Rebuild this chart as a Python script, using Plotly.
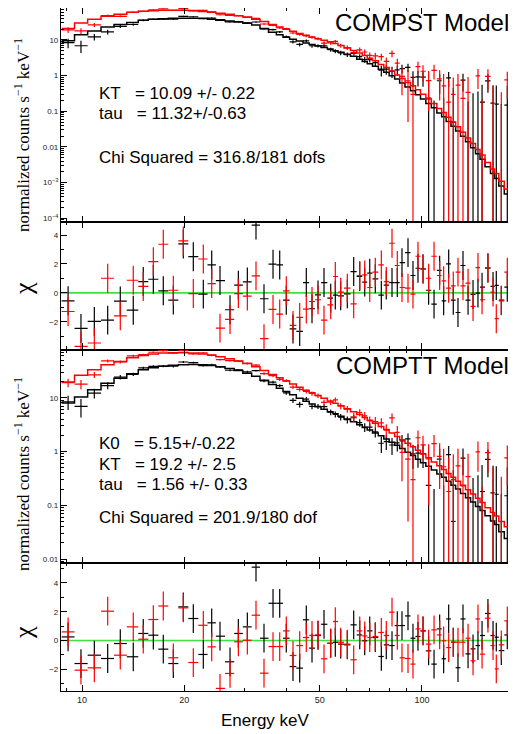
import numpy as np
import plotly.graph_objects as go

# ---------------- data ----------------
energy_kev = [9.1, 9.93, 10.87, 11.9, 12.96, 14.15, 15.14, 16.21, 17.34, 18.56,
              19.86, 21.25, 22.74, 24.07, 25.46, 27.25, 28.83, 30.64, 32.49, 34.3,
              36.46, 38.15, 39.89, 41.74, 43.68, 45.68, 47.48, 49.45, 51.5, 53.89,
              55.59, 57.66, 60.3, 62.97, 65.59, 67.85, 70.19, 72.89, 75.92, 78.52,
              81.62, 84.6, 87.33, 90.96, 94.08, 97.32, 100.7, 104.6, 108.5, 112.7,
              115.8, 119.8, 123.6, 127.6, 132.0, 136.6, 141.3, 146.1, 150.2, 156.3,
              161.8, 165.4, 171.1, 178.2, 185.2]

flux_black = [8.4, 6.9, 12.2, 16.8, 24.1, 27.2, 35.7, 38.2, 38.6, 38.4,
              46.1, 44.8, 39.6, 41.0, 37.4, 32.4, 32.8, 30.2, 31.9, 20.6,
              19.5, 16.8, 12.3, 8.9, 7.5, 9.4, 6.9, 6.9, 6.8, 5.36,
              4.9, 4.36, 3.9, 4.24, 3.43, 2.83, 2.83, 2.32, 1.42, 1.53,
              1.32, 1.45, 1.58, 1.71, 0.9, 0.93, 0.91, 0.235, -0.21, 0.72,
              -0.165, 0.87, 0.05, -0.54, 0.75, -0.2, -0.07, -0.02, 0.18, 0.71,
              0.17, 0.16, -0.21, 0.15, 0.19]
err_black = [2.5, 2.6, 2.5, 2.5, 2.3, 2.0, 1.9, 1.8, 1.8, 1.8,
             1.8, 1.75, 1.7, 1.7, 1.6, 1.55, 1.5, 1.4, 1.3, 1.2,
             1.1, 1.0, 1.0, 0.95, 0.9, 0.85, 0.8, 0.75, 0.7, 0.67,
             0.64, 0.6, 0.58, 0.56, 0.54, 0.52, 0.5, 0.5, 0.48, 0.47,
             0.46, 0.45, 0.45, 0.44, 0.43, 0.43, 0.42, 0.42, 0.41, 0.41,
             0.4, 0.4, 0.4, 0.4, 0.39, 0.39, 0.39, 0.38, 0.38, 0.38,
             0.37, 0.37, 0.37, 0.36, 0.36]
flux_red = [19.1, 17.9, 26.6, 48.3, 46.1, 60.0, 63.2, 70.0, 74.7, 67.3,
            75.3, 65.4, 67.9, 61.2, 51.0, 48.9, 47.9, 43.3, 40.2, 28.1,
            25.8, 21.9, 20.8, 15.7, 14.3, 13.1, 12.0, 10.9, 8.2, 8.3,
            9.1, 7.0, 6.1, 4.4, 5.3, 4.6, 3.7, 3.6, 3.4, 2.5,
            4.2, 2.26, 0.96, 0.72, 0.3, 1.8, 1.33, 0.73, 1.4, 0.81,
            0.52, 0.18, 0.3, 0.54, 0.23, 0.34, -0.58, 0.98, -0.34, 0.95,
            -0.045, -0.98, -0.2, 0.76, 0.01]
err_red = [3.5, 3.5, 3.3, 3.2, 3.0, 2.8, 2.6, 2.5, 2.4, 2.4,
           2.4, 2.3, 2.3, 2.2, 2.1, 2.0, 1.9, 1.8, 1.7, 1.6,
           1.5, 1.4, 1.3, 1.25, 1.2, 1.15, 1.1, 1.05, 1.0, 0.97,
           0.94, 0.9, 0.87, 0.84, 0.82, 0.8, 0.78, 0.76, 0.74, 0.72,
           0.9, 0.7, 0.68, 0.67, 0.66, 0.65, 0.64, 0.63, 0.62, 0.61,
           0.6, 0.6, 0.59, 0.58, 0.58, 0.57, 0.57, 0.56, 0.56, 0.55,
           0.55, 0.54, 0.54, 0.53, 0.53]

# COMPST model and residuals
model_compst_black = [9.5, 14, 18, 23, 27, 31, 36, 38, 39.5, 40.5,
                      41, 41, 40.5, 38, 36, 34, 32, 29.5, 26.5, 21,
                      16.5, 14, 12, 10.5, 9.3, 8.3, 7.5, 6.8, 6.2, 5.6,
                      5.0, 4.5, 4.0, 3.5, 2.9, 2.5, 2.15, 1.85, 1.5, 1.25,
                      1.0, 0.8, 0.62, 0.48, 0.38, 0.29, 0.22, 0.165, 0.125, 0.09,
                      0.07, 0.052, 0.038, 0.028, 0.02, 0.014, 0.0095, 0.0065, 0.0045, 0.0028,
                      0.0018, 0.0013, 0.0008, 0.00048, 0.00028]
model_compst_red = [21, 30, 38, 46, 53, 60, 64, 66, 68, 68.5,
                    68, 67, 63, 60, 56, 53, 48, 44, 38, 33,
                    27, 23, 20, 17.5, 15.3, 13.5, 12, 10.8, 9.8, 8.9,
                    8.0, 7.0, 6.0, 5.1, 4.3, 3.7, 3.1, 2.6, 2.05, 1.7,
                    1.35, 1.05, 0.83, 0.64, 0.52, 0.4, 0.3, 0.22, 0.165, 0.12,
                    0.092, 0.068, 0.05, 0.037, 0.026, 0.018, 0.0125, 0.0085, 0.006, 0.0037,
                    0.0024, 0.0018, 0.0011, 0.00066, 0.0004]
chi_compst_black = [-0.55, -2.46, -1.98, -1.89, -0.57, -1.2, 0.78, 0.94, 0.14, -0.5,
                    3.38, 2.5, -0.09, 1.93, 0.85, -1.17, 0.53, 0.76, 4.69, -0.41,
                    1.98, 1.93, -0.51, -2.5, -2.67, 0.71, -1.1, -0.14, 0.71, -0.37,
                    -0.16, -0.21, -0.07, 1.47, 1.13, 0.74, 1.36, 0.97, -0.16, 0.53,
                    0.71, 0.71, 2.09, 2.78, 1.2, 1.7, 1.66, 0.18, -0.78, 1.56,
                    -0.55, 2.0, -0.51, -1.36, 1.89, -0.51, -0.11, -0.02, 0.39, 1.7,
                    0.44, 0.51, -0.51, 0.39, 0.55]
chi_compst_red = [-1.29, -3.7, -3.47, 1.01, -1.59, 0.87, 0.44, 2.16, 3.36, 0.18,
                  3.59, -0.05, 2.34, 0.64, -2.44, -1.84, -0.05, -0.23, 1.17, -3.17,
                  -1.15, -1.47, 0.14, -2.25, -1.7, -1.13, -0.6, -0.48, -1.89, -0.83,
                  1.13, 0.05, 0.32, -0.76, 1.2, 1.24, 0.37, 1.43, 1.93, 0.78,
                  3.43, 1.89, 0.37, 0.32, -0.09, 2.53, 1.63, 1.01, 2.53, 1.2,
                  0.83, 0.32, 0.48, 1.43, 0.48, 0.67, -0.94, 1.75, -0.48, 1.75,
                  0.05, -1.79, -0.55, 1.43, 0.09]

# COMPTT model and residuals
model_comptt_black = [8.0, 10.3, 14, 18.5, 23, 28, 33, 36, 38.5, 40,
                      41, 41.5, 41, 39.5, 37.5, 35, 32, 28.5, 25, 21,
                      17.5, 15, 13, 11.3, 9.8, 8.6, 7.6, 6.8, 6.1, 5.5,
                      5.0, 4.5, 4.0, 3.55, 3.15, 2.8, 2.5, 2.2, 1.95, 1.7,
                      1.48, 1.3, 1.13, 0.97, 0.84, 0.72, 0.62, 0.53, 0.45, 0.38,
                      0.33, 0.28, 0.235, 0.2, 0.166, 0.138, 0.115, 0.095, 0.08, 0.064,
                      0.051, 0.044, 0.032, 0.024, 0.018]
model_comptt_red = [19.6, 26, 33, 41, 47, 55, 61, 65, 67.5, 68.5,
                    68.5, 67.5, 65, 62, 58, 53, 48, 43, 37.5, 32,
                    27, 23.5, 20.5, 18, 15.7, 13.8, 12.3, 11, 9.8, 8.7,
                    7.9, 7.1, 6.2, 5.5, 4.85, 4.3, 3.8, 3.35, 2.9, 2.55,
                    2.2, 1.9, 1.65, 1.42, 1.22, 1.05, 0.9, 0.76, 0.64, 0.54,
                    0.46, 0.39, 0.33, 0.28, 0.235, 0.195, 0.162, 0.135, 0.113, 0.09,
                    0.073, 0.063, 0.05, 0.04, 0.032]
chi_comptt_black = [0.25, -1.6, -1.02, -1.25, -0.21, -1.13, 0.49, 0.37, -0.6, -1.6,
                    2.34, 1.53, -0.97, 1.23, 0.3, -1.48, 0.49, 0.95, 5.1, 0.16,
                    2.59, 2.59, 0.16, -1.81, -1.92, 1.44, -0.53, 0.35, 1.13, -0.19,
                    -0.12, -0.25, -0.3, 1.09, 0.39, -0.02, 0.67, 0.21, -1.11, -0.3,
                    -0.35, 1.04, 1.04, 1.71, 0.16, 0.28, 0.67, -0.72, -1.64, 0.81,
                    -1.27, 1.5, -0.12, -1.89, 1.5, -0.93, -0.58, -0.35, 0.35, 1.88,
                    0.35, 0.23, -0.7, 0.39, 0.44]
chi_comptt_red = [0.6, -2.06, -1.9, 2.04, -1.02, 0.95, 0.09, 1.46, 2.4, -1.2,
                  2.27, -1.53, 1.06, -0.44, -3.33, -2.29, -0.09, 0.02, 1.76, -2.27,
                  -0.42, -0.42, 0.67, -1.04, -0.35, 0.21, 0.35, 0.39, -1.27, -0.19,
                  1.32, -0.12, -0.25, -1.34, 0.67, 0.32, 0.21, 0.28, 0.56, 0.35,
                  1.97, 0.35, -1.2, -1.25, -1.64, 0.81, 0.67, -0.25, 0.74, 0.39,
                  -0.02, -0.49, -0.12, -0.12, -0.12, 0.16, -1.41, 1.5, -0.95, 1.55,
                  -0.35, -1.97, -0.3, 1.37, -0.12]

x_tick_vals = [10, 20, 50, 100]
x_tick_text = ["10", "20", "50", "100"]
x_minor_vals = [9, 30, 40, 60, 70, 80, 90, 200]
spec1_tick_vals = [1e-4, 1e-3, 0.01, 0.1, 1, 10]
spec1_tick_text = ["10<sup>\u22124</sup>", "10<sup>\u22123</sup>", "0.01", "0.1", "1", "10"]
spec2_tick_vals = [0.01, 0.1, 1, 10]
spec2_tick_text = ["0.01", "0.1", "1", "10"]
res_tick_vals = [-2, 0, 2, 4]
res_tick_text = ["\u22122", "0", "2", "4"]

# ---------------- helpers ----------------
E = np.array(energy_kev)
mid = np.sqrt(E[:-1] * E[1:])
edges = np.concatenate([[E[0] ** 2 / mid[0]], mid, [E[-1] ** 2 / mid[-1]]])
lo, hi = edges[:-1], edges[1:]

BLACK = "#000000"
RED = "#ff0000"
GREEN = "#3fe23f"


def cross_segments(y, err, log_floor=None):
    xs, ys = [], []
    for i in range(len(E)):
        yi, ei = y[i], err[i]
        if log_floor is None or yi > 0:
            xs += [lo[i], hi[i], None]
            ys += [yi, yi, None]
        top, bot = yi + ei, yi - ei
        if log_floor is not None:
            if top <= 0:
                continue
            bot = max(bot, log_floor)
        xs += [E[i], E[i], None]
        ys += [bot, top, None]
    return xs, ys


fig = go.Figure()


def add_cross(y, err, color, ax, log_floor=None, width=1.2):
    xs, ys = cross_segments(y, err, log_floor)
    fig.add_trace(go.Scatter(x=xs, y=ys, mode="lines", line=dict(color=color, width=width),
                             xaxis="x" + ax, yaxis="y" + ax, hoverinfo="skip", showlegend=False))


def add_step(model, color, ax):
    fig.add_trace(go.Scatter(x=list(edges), y=list(model) + [model[-1]], mode="lines",
                             line=dict(color=color, width=1.5, shape="hv"),
                             xaxis="x" + ax, yaxis="y" + ax, hoverinfo="skip", showlegend=False))


ones = [1.0] * len(E)

# panel 1: COMPST spectrum
add_cross(flux_black, err_black, BLACK, "", log_floor=1e-8)
add_step(model_compst_black, BLACK, "")
add_cross(flux_red, err_red, RED, "", log_floor=1e-8)
add_step(model_compst_red, RED, "")
# panel 2: COMPST residuals
add_cross(chi_compst_black, ones, BLACK, "2")
add_cross(chi_compst_red, ones, RED, "2")
# panel 3: COMPTT spectrum
add_cross(flux_black, err_black, BLACK, "3", log_floor=1e-8)
add_step(model_comptt_black, BLACK, "3")
add_cross(flux_red, err_red, RED, "3", log_floor=1e-8)
add_step(model_comptt_red, RED, "3")
# panel 4: COMPTT residuals
add_cross(chi_comptt_black, ones, BLACK, "4")
add_cross(chi_comptt_red, ones, RED, "4")

# ---------------- layout ----------------
# The page body keeps the browser's default 8px margin, so the figure is
# sized 508x726 and every screen position below is given as (screen - 8).
OFF = 8
FIG_W, FIG_H = 516 - OFF, 734 - OFF
L, T, B = 61 - OFF, 0, FIG_H - (691 - OFF)
PLOT_H = FIG_H - T - B
PLOT_W = FIG_W - L

TICKFONT_X = dict(family="Liberation Sans, Arial, sans-serif", size=9, color="#222")
TICKFONT_Y = dict(family="Liberation Sans, Arial, sans-serif", size=8, color="#222")


def xaxis_cfg(anchor, labels):
    return dict(type="log", range=[0.9382, 2.2765], anchor=anchor, domain=[0, 1],
                showline=True, mirror="ticks", linecolor="black", linewidth=1.2,
                ticks="inside", ticklen=6, tickwidth=1, tickcolor="black",
                tickmode="array", tickvals=x_tick_vals, ticktext=x_tick_text,
                showticklabels=labels, tickfont=TICKFONT_X,
                showgrid=False, zeroline=False,
                minor=dict(tickmode="array", tickvals=x_minor_vals, ticks="inside",
                           ticklen=3, tickwidth=1, tickcolor="black", showgrid=False))


def yaxis_cfg(anchor, domain, rng, tv, tt, minor_vals, logy):
    d = dict(range=rng, domain=domain, anchor=anchor, showline=True, mirror=False,
             linecolor="black", linewidth=1.2, ticks="inside", ticklen=6, tickwidth=1,
             tickcolor="black", tickmode="array", tickvals=tv, ticktext=tt,
             tickfont=TICKFONT_Y, showgrid=False, zeroline=False,
             minor=dict(tickmode="array", tickvals=minor_vals, ticks="inside",
                        ticklen=3, tickwidth=1, tickcolor="black", showgrid=False))
    if logy:
        d["type"] = "log"
    return d


log_minor = [k * 10.0 ** d for d in range(-5, 3) for k in range(2, 10)]
res_minor = [-3, -1, 1, 3, 5]


def py_paper(py):  # screen y -> paper fraction
    return (691 - py) / PLOT_H


def px_paper(px):  # screen x -> paper fraction
    return (px - 61) / PLOT_W


dom4 = [0.0, py_paper(563)]
dom3 = [py_paper(563), py_paper(349.5)]
dom2 = [py_paper(349.5), py_paper(221.7)]
dom1 = [py_paper(221.7), 1.0]

fig.update_layout(
    width=FIG_W, height=FIG_H,
    margin=dict(l=L, r=0, t=T, b=B, pad=0),
    paper_bgcolor="white", plot_bgcolor="white",
    xaxis=xaxis_cfg("y", False),
    xaxis2=xaxis_cfg("y2", False),
    xaxis3=xaxis_cfg("y3", False),
    xaxis4=xaxis_cfg("y4", True),
    yaxis=yaxis_cfg("x", dom1, [-4.095, 1.897], spec1_tick_vals, spec1_tick_text, log_minor, True),
    yaxis2=yaxis_cfg("x2", dom2, [-3.92, 4.92], res_tick_vals, res_tick_text, res_minor, False),
    yaxis3=yaxis_cfg("x3", dom3, [-2.074, 1.896], spec2_tick_vals, spec2_tick_text, log_minor, True),
    yaxis4=yaxis_cfg("x4", dom4, [-3.51, 5.39], res_tick_vals, res_tick_text, res_minor, False),
)

# zero lines in residual panels
for ax in ["2", "4"]:
    fig.add_shape(type="line", xref="x%s domain" % ax, yref="y" + ax, x0=0, x1=1, y0=0, y1=0,
                  line=dict(color=GREEN, width=1.6), layer="below")

SANS = "Liberation Sans, Arial, sans-serif"
SERIF = "Liberation Serif, Times New Roman, serif"
NB = "\u00a0"


def note(text, x, y, size=17, xanchor="left", family=SANS, angle=0):
    fig.add_annotation(text=text, xref="paper", yref="paper", x=px_paper(x), y=py_paper(y),
                       xanchor=xanchor, yanchor="middle", showarrow=False, textangle=angle,
                       font=dict(family=family, size=size, color="black"))


note("COMPST Model", 511, 23, size=24, xanchor="right")
note("KT" + NB * 3 + "= 10.09 +/- 0.22", 97, 94)
note("tau" + NB * 3 + "= 11.32+/-0.63", 97, 113)
note("Chi Squared = 316.8/181 dofs", 97, 157)

note("COMPTT Model", 511, 365, size=24, xanchor="right")
note("K0" + NB * 3 + "= 5.15+/-0.22", 97, 443)
note("KT" + NB * 3 + "= 19.2 +/- 2.5", 97, 464)
note("tau" + NB * 3 + "= 1.56 +/- 0.33", 97, 484)
note("Chi Squared = 201.9/180 dof", 97, 517)

ylab = "normalized counts s<sup>\u22121</sup> keV<sup>\u22121</sup>"
for yy in [135, 474]:
    note(ylab, 22, yy, size=17, xanchor="center", family=SERIF, angle=-90)
for yy in [289, 633]:
    note("\u03c7", 23, yy, size=26, xanchor="center", family=SERIF, angle=-90)

note("Energy keV", 265, 720, size=17, xanchor="center")

fig.write_html("out.html")
